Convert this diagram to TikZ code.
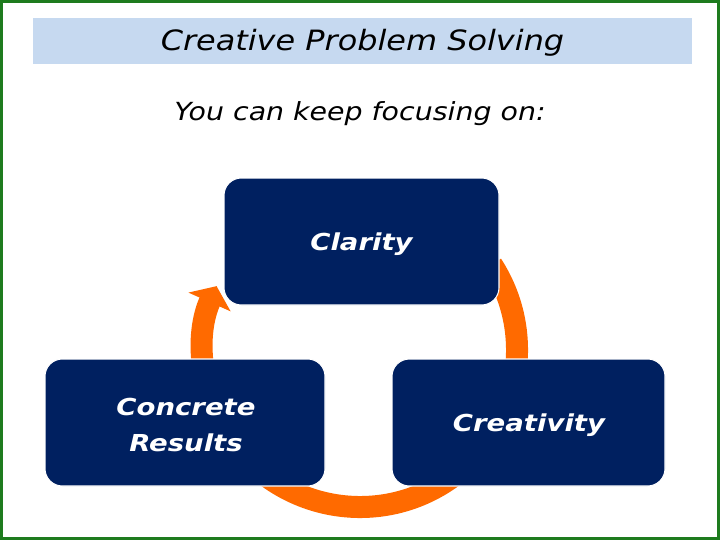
\documentclass[tikz,border=0pt]{standalone}
\usepackage{fontspec}
\setmainfont{DejaVu Sans}
\newfontfamily\widefont[FakeStretch=1.14]{DejaVu Sans}
\newfontfamily\boxfont[FakeStretch=1.18]{DejaVu Sans}
\usetikzlibrary{arrows.meta}
\definecolor{navy}{HTML}{002060}
\definecolor{orng}{HTML}{FF6A00}
\definecolor{titlebg}{HTML}{C6D9F0}
\definecolor{frame}{HTML}{1E7B1E}
\tikzset{
  box/.style={fill=navy, draw=white, line width=0.8pt, rounded corners=13pt,
    text=white, font=\boxfont\fontsize{17.5}{27}\selectfont\bfseries\itshape, align=center,
    inner sep=0pt},
}
\begin{document}
\begin{tikzpicture}[x=0.75pt,y=0.75pt]
\useasboundingbox (0,0) rectangle (720,540);
\fill[white] (0,0) rectangle (720,540);
\draw[frame, line width=2.2pt] (1.5,1.5) rectangle (718.5,538.5);
% title
\fill[titlebg] (33,476) rectangle (692,522);
\node[font=\widefont\fontsize{21}{24}\selectfont\itshape, inner sep=0pt] (title) at (362.5,497.5) {Creative Problem Solving};
\node[font=\widefont\fontsize{18.7}{22}\selectfont\itshape, inner sep=0pt] (sub) at (360,426.5) {You can keep focusing on:};
% cycle arrow
\coordinate (c) at (360,190);
\draw[orng, line width=16.5pt, -{Triangle[width=34pt,length=13pt]}]
  ([shift={(33:157)}]c) arc[start angle=33, end angle=-204, radius=157];
% boxes
\node[box, minimum width=275*0.75pt, minimum height=127*0.75pt] (clar) at (361.5,298.5) {};
\node[box, minimum width=280*0.75pt, minimum height=127*0.75pt] (conc) at (185,117.5) {};
\node[box, minimum width=273*0.75pt, minimum height=127*0.75pt] (crea) at (528.5,117.5) {};
\node[box, draw=none, fill=none] (clart) at (361.5,296) {Clarity};
\node[box, draw=none, fill=none] (conct) at (186,115) {Concrete\\Results};
\node[box, draw=none, fill=none] (creat) at (529,115) {Creativity};
\end{tikzpicture}
\end{document}
